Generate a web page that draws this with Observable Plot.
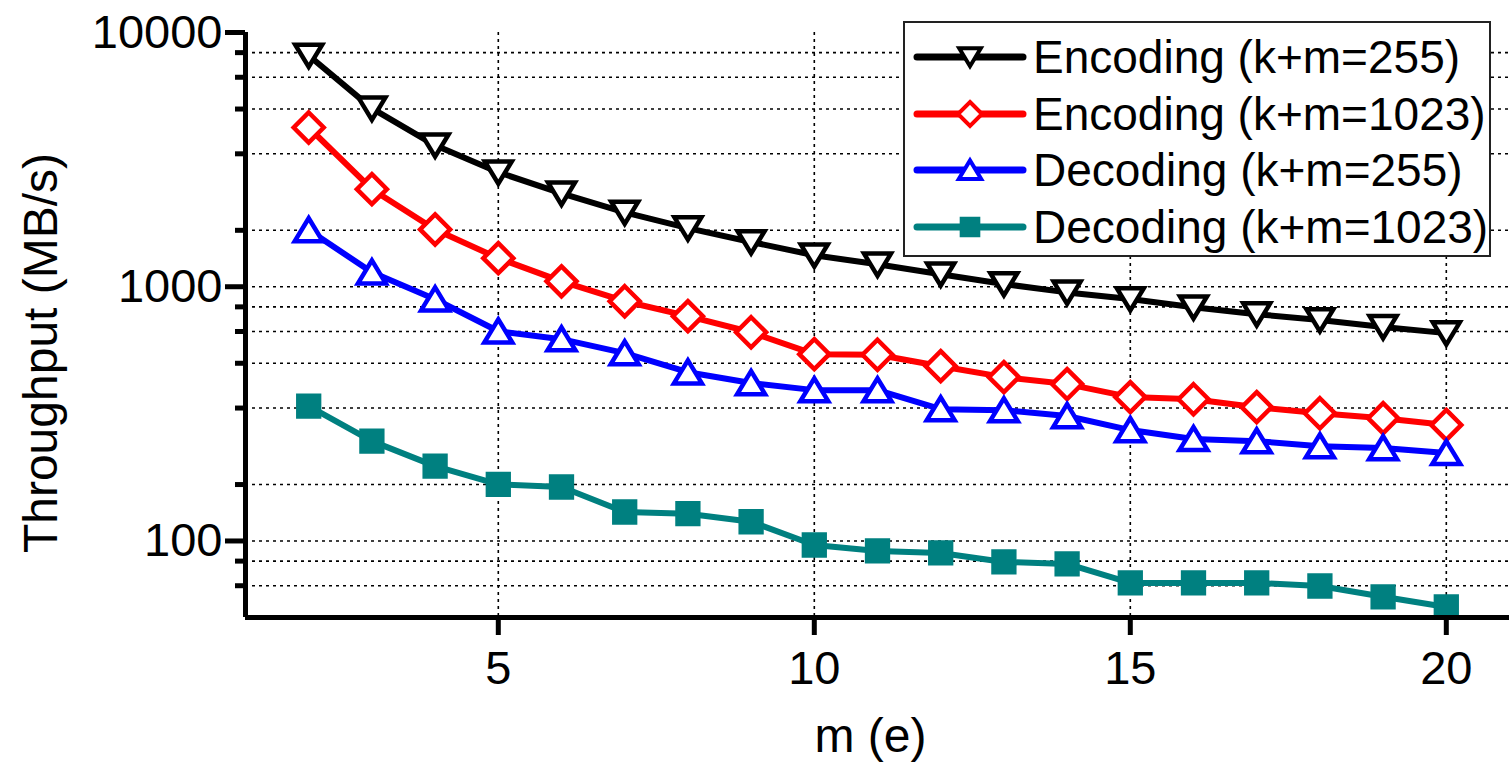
<!DOCTYPE html>
<html>
<head>
<meta charset="utf-8">
<script src="https://cdn.jsdelivr.net/npm/d3@7"></script>
<script src="https://cdn.jsdelivr.net/npm/@observablehq/plot@0.6"></script>
<style>
  html, body { margin: 0; padding: 0; background: #fff; }
  #wrap { position: relative; width: 1509px; height: 768px; overflow: hidden; font-family: "Liberation Sans", Arial, sans-serif; }
  #legend { position: absolute; left: 903px; top: 21px; width: 584px; height: 232px; border: 2px solid #222; background: #fff; box-sizing: content-box; }
  .row { position: absolute; left: 0; height: 56px; display: flex; align-items: center; }
  .row svg { display: block; margin-left: 7px; }
  .row span { font-size: 46px; color: #000; margin-left: 5px; white-space: nowrap; }
</style>
</head>
<body>
<div id="wrap"><div id="chart"></div><div id="legend"></div></div>
<script>
// ---- data ----
const m = [2,3,4,5,6,7,8,9,10,11,12,13,14,15,16,17,18,19,20];
const enc255  = [8120,5030,3600,2820,2330,1960,1700,1500,1330,1225,1120,1025,950,895,830,780,740,695,657];
const enc1023 = [4230,2420,1680,1295,1050,877,766,662,543,540,487,441,414,368,361,336,318,304,286];
const dec255  = [1670,1140,893,668,622,548,461,418,392,392,330,327,310,273,252,247,236,232,222];
const dec1023 = [339,247,197,167,163,130,128,119,96.4,91.4,89.7,82.7,81.2,68.4,68.4,68.4,66.5,60.3,55];
const seriesNames = ["Encoding (k+m=255)", "Encoding (k+m=1023)", "Decoding (k+m=255)", "Decoding (k+m=1023)"];
const seriesColors = ["#000000", "#ff0000", "#0000ff", "#008080"];
const xTicks = [5, 10, 15, 20];
const yMajor = [100, 1000, 10000];
const yMinor = [66.67, 83.33, 166.7, 333.3, 500, 666.7, 833.3, 1667, 3333, 5000, 6667, 8333];
const xDomain = [1, 21];
const yDomain = [50, 10000];

// ---- symbols ----
const downTri = { draw(c, size) { const r = Math.sqrt(size / Math.PI); c.moveTo(-r, -0.8*r); c.lineTo(r, -0.8*r); c.lineTo(0, 0.85*r); c.closePath(); } };
const upTri   = { draw(c, size) { const r = Math.sqrt(size / Math.PI); c.moveTo(-r, 0.8*r); c.lineTo(r, 0.8*r); c.lineTo(0, -0.85*r); c.closePath(); } };
const diamond = { draw(c, size) { const r = Math.sqrt(size / Math.PI); c.moveTo(0, -r); c.lineTo(r, 0); c.lineTo(0, r); c.lineTo(-r, 0); c.closePath(); } };
const square  = { draw(c, size) { const r = Math.sqrt(size / Math.PI); c.rect(-0.8*r, -0.8*r, 1.6*r, 1.6*r); } };
const symbols = [downTri, diamond, upTri, square];
const radii = [13.5, 15, 14, 13];
const fills = ["#fff", "#fff", "#fff", "#008080"];

const allValues = [enc255, enc1023, dec255, dec1023];
const table = allValues.flatMap((vals, i) => vals.map((v, j) => ({ m: m[j], v, s: seriesNames[i] })));

const gridStyle = { stroke: "#000", strokeWidth: 1.6, strokeDasharray: "3,4" };

const marks = [
  Plot.ruleY([...yMajor.filter(d => d < yDomain[1]), ...yMinor], { y: d => d, ...gridStyle }),
  Plot.ruleX(xTicks, { x: d => d, ...gridStyle }),
];
seriesNames.forEach((name, i) => {
  const d = table.filter(r => r.s === name);
  marks.push(Plot.line(d, { x: "m", y: "v", stroke: seriesColors[i], strokeWidth: 6 }));
});
seriesNames.forEach((name, i) => {
  const d = table.filter(r => r.s === name);
  marks.push(Plot.dot(d, { x: "m", y: "v", symbol: () => symbols[i], r: radii[i], stroke: seriesColors[i], strokeWidth: 4.5, fill: fills[i] }));
});
marks.push(
  Plot.ruleX([xDomain[0]], { x: d => d, stroke: "#000", strokeWidth: 5 }),
  Plot.ruleY([yDomain[0]], { y: d => d, stroke: "#000", strokeWidth: 5 }),
  Plot.axisY(yMajor, { tickSize: 20, tickPadding: 3, strokeWidth: 5, fontSize: 47, tickFormat: d => String(d), label: null }),
  Plot.axisY(yMinor, { tickSize: 10, strokeWidth: 5, tickFormat: () => "", label: null }),
  Plot.axisX(xTicks, { tickSize: 18, tickPadding: 15, strokeWidth: 5, fontSize: 47, tickFormat: d => String(d), label: null }),
  Plot.text(["Throughput (MB/s)"], { frameAnchor: "left", textAnchor: "middle", rotate: -90, dx: -204, dy: 28, fontSize: 48, fill: "#000" }),
  Plot.text(["m (e)"], { frameAnchor: "bottom", dy: 134, dx: -7, fontSize: 48, fill: "#000" })
);

const chart = Plot.plot({
  width: 1509,
  height: 768,
  marginLeft: 245,
  marginRight: 0,
  marginTop: 32,
  marginBottom: 151,
  style: { fontFamily: "'Liberation Sans', Arial, sans-serif", fontSize: "44px", color: "#000", background: "#fff", overflow: "visible" },
  x: { domain: xDomain, axis: null },
  y: { type: "log", domain: yDomain, axis: null },
  marks
});
document.getElementById("chart").appendChild(chart);

// ---- legend (HTML, outside the plot) ----
const legend = d3.select("#legend");
seriesNames.forEach((name, i) => {
  const row = legend.append("div").attr("class", "row").style("top", (6 + i * 56.5) + "px");
  const svg = row.append("svg").attr("width", 116).attr("height", 46);
  svg.append("line").attr("x1", 5).attr("x2", 111).attr("y1", 23).attr("y2", 23)
    .attr("stroke", seriesColors[i]).attr("stroke-width", 7).attr("stroke-linecap", "round");
  const p = d3.path();
  symbols[i].draw(p, Math.PI * (radii[i] * 0.8) ** 2);
  svg.append("path").attr("d", p.toString()).attr("transform", "translate(58,23)")
    .attr("stroke", seriesColors[i]).attr("stroke-width", 4).attr("fill", fills[i]);
  row.append("span").text(name);
});
</script>
</body>
</html>
